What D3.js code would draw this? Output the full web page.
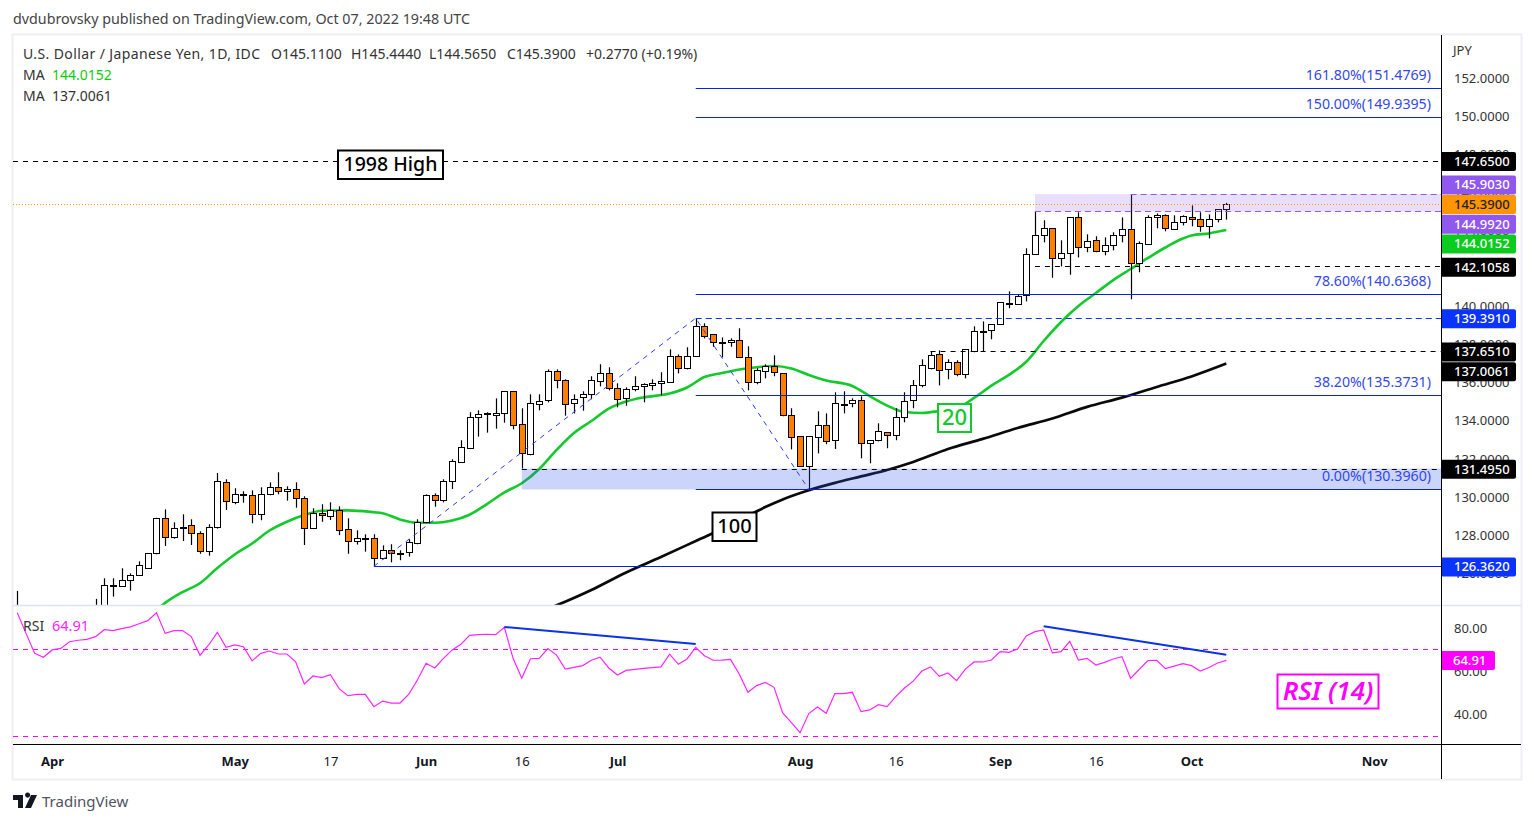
<!DOCTYPE html>
<html>
<head>
<meta charset="utf-8">
<script src="https://cdn.jsdelivr.net/npm/d3@7"></script>
<style>
    html,body{margin:0;padding:0;background:#fff;overflow:hidden;}
    text{font-family:"Noto Sans",sans-serif;}
</style>
</head>
<body>
<div id="plot"></div>
<script>
/* USD/JPY daily bars, one row per ten bars. Bars 1-8 sit below the pane and cannot be read. */
var opens = [
    123.9,null,null,null,null,null,null,null,null,123.7,
    123.9,125.36,125.31,125.63,125.89,126.26,127.02,128.88,127.88,128.41,
    128.51,128.09,127.15,128.39,130.77,129.72,130.10,130.09,129.09,130.14,
    130.51,130.30,130.40,129.93,128.36,129.14,128.99,129.30,128.30,127.67,
    127.84,127.83,126.78,127.20,127.05,127.10,127.57,128.67,130.09,129.83,
    130.82,131.82,132.56,134.18,134.38,134.29,134.39,135.55,133.82,132.24,
    134.87,135.08,136.60,136.13,134.92,135.23,135.39,136.07,136.49,135.71,
    135.18,135.65,135.81,135.86,135.97,136.02,137.39,136.76,137.39,138.96,
    138.54,138.13,138.12,138.23,137.33,136.02,136.60,136.86,136.49,134.29,
    133.19,131.61,133.13,133.76,132.98,134.86,134.92,135.08,132.82,132.98,
    133.40,133.24,134.18,135.08,135.86,136.76,137.49,136.70,137.07,136.44,
    137.65,138.69,138.75,139.07,140.13,140.12,140.59,142.74,143.74,144.11,
    142.53,142.79,144.68,143.11,143.48,142.90,143.21,143.74,144.05,142.27,
    143.27,144.68,144.79,144.05,144.42,144.68,144.58,144.21,144.58,145.11
];
var highs = [
    125.07,null,null,null,null,null,null,null,null,124.65,
    125.73,125.73,126.26,125.99,126.62,127.04,128.91,129.35,128.67,129.09,
    128.83,128.20,128.57,131.26,130.93,130.46,130.30,130.35,130.51,130.77,
    131.30,130.56,130.77,130.04,129.41,129.62,129.72,129.51,128.88,128.25,
    128.04,128.04,127.46,127.52,127.20,127.78,128.83,130.14,130.19,130.93,
    131.98,132.98,134.45,134.55,134.45,135.18,135.55,135.55,134.66,135.39,
    135.39,136.70,136.70,136.18,135.39,135.55,136.34,136.97,136.81,135.97,
    135.76,136.34,135.97,136.18,136.55,137.75,137.49,137.86,139.391,139.12,
    138.54,138.38,138.33,138.86,137.91,136.76,136.97,137.44,136.49,134.66,
    133.19,133.19,134.50,134.39,135.50,135.55,135.18,135.29,132.98,133.87,
    133.40,134.66,135.50,136.14,137.23,137.65,137.70,137.23,137.18,137.75,
    138.96,139.22,139.07,140.22,140.80,140.64,143.06,144.992,144.53,144.11,
    143.48,144.68,144.95,143.79,143.69,143.63,143.90,144.68,145.903,143.42,
    144.79,144.89,144.84,144.79,144.79,145.31,144.95,144.84,145.10,145.444
];
var lows = [
    123.5,null,null,null,null,null,null,null,null,123.5,
    123.8,124.77,125.31,125.08,125.89,126.26,126.99,127.43,127.81,127.69,
    127.48,127.02,126.92,128.34,129.32,129.62,129.70,128.62,128.78,130.09,
    130.14,129.81,129.44,127.48,128.36,128.70,128.79,128.00,127.02,127.50,
    127.13,126.362,126.73,126.57,126.68,126.87,127.52,128.62,129.49,129.72,
    130.42,131.82,132.56,133.17,133.38,133.59,133.90,133.55,131.495,132.19,
    134.55,134.97,135.71,134.27,134.39,134.53,135.13,135.81,135.60,134.71,
    134.79,135.55,134.97,135.60,135.34,136.02,136.49,136.70,137.39,138.33,
    137.89,137.33,137.89,137.33,135.60,135.92,136.23,136.34,134.24,132.50,
    131.61,130.396,132.29,132.77,132.52,134.39,134.71,132.03,131.77,132.92,
    132.56,132.98,133.92,134.66,135.76,136.70,135.86,136.18,136.34,136.23,
    137.60,137.65,138.28,139.07,139.91,140.12,140.27,142.74,143.37,141.51,
    142.11,141.67,142.58,142.85,142.85,142.69,142.95,143.37,140.38,141.80,
    143.27,144.11,143.95,144.05,144.26,144.21,143.93,143.58,144.42,144.565
];
var closes = [
    124.1,null,null,null,null,null,null,null,null,124.0,
    125.36,125.33,125.63,125.89,126.41,127.04,128.88,127.88,128.36,128.37,
    128.09,127.15,128.41,130.82,129.77,130.14,130.14,129.09,130.14,130.51,
    130.30,130.40,129.93,128.36,129.14,129.04,129.30,128.25,127.67,127.83,
    127.82,126.78,127.20,127.04,127.03,127.62,128.67,130.09,129.83,130.82,
    131.87,132.61,134.18,134.34,134.41,134.39,135.55,133.76,132.29,134.92,
    135.02,136.60,136.13,134.87,135.13,135.39,136.13,136.49,135.71,135.13,
    135.65,135.81,135.92,135.97,136.07,137.39,136.76,137.39,138.96,138.44,
    138.12,138.11,138.23,137.33,136.02,136.65,136.86,136.55,134.29,133.13,
    131.61,133.19,133.76,132.92,134.92,134.90,135.08,132.82,132.98,133.45,
    133.24,134.18,135.02,135.86,136.91,137.44,136.65,137.07,136.44,137.75,
    138.70,138.71,139.07,140.22,140.17,140.54,142.74,143.74,144.11,142.53,
    142.79,144.68,143.11,143.42,142.90,143.21,143.74,144.05,142.27,143.32,
    144.68,144.79,144.11,144.42,144.74,144.58,144.21,144.58,145.10,145.39
];

//moving averages, read at the bars listed
var ma20Bars = [16,17,19,21,23,25,27,29,31,33,35,38,41,42,44,46,48,50,52,54,56,58,60,62,64,66,68,70,72,75,77,79,81,84,87,89,91,93,96,98,100,102,104,106,108,110,112,114,116,118,120,122,124,126,128,130,132,134,135,137,139];
var ma20Vals = [124.07,124.44,125.01,125.47,126.27,126.98,127.56,128.24,128.70,129.05,129.28,129.30,129.20,129.15,128.82,128.65,128.65,128.77,129.07,129.63,130.24,130.72,131.47,132.47,133.36,133.99,134.64,135.01,135.23,135.43,135.75,136.30,136.51,136.76,136.88,136.75,136.41,136.12,135.83,135.30,134.80,134.46,134.41,134.52,134.67,135.20,135.85,136.41,137.10,138.19,139.19,140.03,140.71,141.39,141.97,142.55,143.10,143.57,143.73,143.84,144.0152];
var ma100Bars = [61,62,66,70,74,78,82,86,88,91,94,97,100,103,107,111,115,119,123,127,131,135,139];
var ma100Vals = [124.12,124.31,125.12,126.04,126.85,127.69,128.53,129.47,129.87,130.35,130.74,131.08,131.42,131.84,132.52,133.05,133.62,134.12,134.73,135.22,135.78,136.33,137.0061];

var rsiVals = [
    87.1,77.5,68.2,66.4,69.8,70.5,73.6,74.3,74.7,76.0,
    79.2,78.8,79.7,80.5,82.0,83.4,87.1,77.5,78.8,78.8,
    76.0,67.3,72.1,78.0,71.0,72.1,71.3,64.7,68.2,69.3,
    67.9,67.9,64.3,54.0,57.7,56.9,58.3,51.8,48.5,49.1,
    49.1,43.4,46.0,45.1,45.1,49.1,55.8,63.6,61.4,65.9,
    69.8,72.4,76.6,76.9,77.1,76.9,80.3,65.9,56.6,65.7,
    65.9,70.4,67.4,60.9,61.7,62.5,65.0,66.4,61.4,58.1,
    60.3,60.8,61.2,61.6,61.9,67.8,63.1,65.6,71.0,67.1,
    65.0,65.1,65.4,58.6,50.1,53.2,54.7,52.4,40.5,36.0,
    31.3,40.2,43.3,40.3,49.5,49.5,50.1,41.1,41.9,44.3,
    43.4,48.1,52.1,55.3,60.0,61.9,57.5,59.1,55.5,60.9,
    64.2,64.2,65.1,69.0,68.7,70.2,76.3,78.3,79.1,68.4,
    69.0,73.8,65.1,65.9,62.8,64.0,65.6,66.7,56.6,60.8,
    64.8,65.0,61.1,62.3,63.4,62.5,60.0,61.6,63.7,64.91
];

var priceTicks = [152,150,148,146,144,142,140,138,136,134,132,130,128,126];
var rsiTicks = [80,60,40];
var timeTickBars = [4,25,36,47,58,69,90,101,113,124,135,156];
var timeTickLabels = ["Apr","May","17","Jun","16","Jul","Aug","16","Sep","16","Oct","Nov"];
var monthLabels = ["Apr","May","Jun","Jul","Aug","Sep","Oct","Nov"];

//fibonacci levels and their names
var fibLevels = [151.4769,149.9395,140.6368,135.3731,130.3960];
var fibNames = ["161.80%","150.00%","78.60%","38.20%","0.00%"];
var fibStartBar = 78;

//horizontal levels: price, first bar (null = whole pane)
var blackLevels = [147.65,142.1058,137.651,131.495];
var blackLevelBars = [null,117,105,58];
var zigzagBars = [41,78,91];
var zigzagPrices = [126.362,139.391,130.396];
var lastPrice = 145.39;

//tags on the price scale
var tagPrices = [147.65,145.903,145.39,144.992,144.0152,142.1058,139.391,137.651,137.0061,131.495,126.362];
var tagTexts = ["147.6500","145.9030","145.3900","144.9920","144.0152","142.1058","139.3910","137.6510","137.0061","131.4950","126.3620"];
var tagColors = ["#000","#9058ee","#ff9500","#9058ee","#0bcb1f","#000","#0a33ff","#000","#000","#000","#0a33ff"];

//RSI divergence lines
var rsiLine1Bars = [56,78], rsiLine1Vals = [80.47,72.56];
var rsiLine2Bars = [118,139], rsiLine2Vals = [80.8,67.6];

/* set up the canvas */
var svg = d3.select('#plot').append('svg')
    .attr('width',1534)
    .attr('height',823)
    .style('display','block');

var paneL = 13, paneR = 1441, outerR = 1521;
var priceT = 35, priceB = 605, rsiB = 744, outerB = 779;

var x = d3.scaleLinear().domain([0,139]).range([17.3,1226.3]);
var y = d3.scaleLinear().domain([130,152]).range([497,78]);
var yRsi = d3.scaleLinear().domain([40,80]).range([714,628]);

svg.append('clipPath').attr('id','clipPrice').append('rect')
    .attr('x',paneL).attr('y',priceT).attr('width',paneR-paneL).attr('height',priceB-priceT);
svg.append('clipPath').attr('id','clipRsi').append('rect')
    .attr('x',paneL).attr('y',priceB).attr('width',paneR-paneL).attr('height',rsiB-priceB);

//outer frame
svg.append('rect')
    .attr('x',12.5).attr('y',34.5).attr('width',outerR-12).attr('height',outerB-34)
    .attr('fill','none').attr('stroke','#eeeef5').attr('stroke-width',2);

var price = svg.append('g').attr('clip-path','url(#clipPrice)');
var pane2 = svg.append('g').attr('clip-path','url(#clipRsi)');

/* moving averages go under the candles */
function maLine(bars,vals,color,w){
    var line = d3.line()
        .x(function(d){return x(d);})
        .y(function(d,i){return y(vals[i]);})
        .curve(d3.curveMonotoneX);
    price.append('path')
        .attr('d',line(bars))
        .attr('fill','none')
        .attr('stroke',color)
        .attr('stroke-width',w);
}
maLine(ma20Bars,ma20Vals,'#14c92a',2.6);
maLine(ma100Bars,ma100Vals,'#0a0a0a',2.7);

/* candles */
var bars = d3.range(opens.length).filter(function(i){return opens[i]!==null;});

price.selectAll('.wick')
    .data(bars)
    .enter()
    .append('line')
    .attr('class','wick')
    .attr('x1',function(i){return Math.round(x(i))+0.5;})
    .attr('x2',function(i){return Math.round(x(i))+0.5;})
    .attr('y1',function(i){return y(highs[i]);})
    .attr('y2',function(i){return y(lows[i]);})
    .attr('stroke','#000')
    .attr('stroke-width',1.2);

price.selectAll('.body')
    .data(bars)
    .enter()
    .append('rect')
    .attr('class','body')
    .attr('x',function(i){return Math.round(x(i))-2.5;})
    .attr('width',6)
    .attr('y',function(i){return Math.round(y(Math.max(opens[i],closes[i])))+0.5;})
    .attr('height',function(i){return Math.max(1,Math.round(Math.abs(y(opens[i])-y(closes[i]))));})
    .attr('fill',function(i){return closes[i]<opens[i]?'#ff8000':'#fff';})
    .attr('stroke','#000')
    .attr('stroke-width',1);

/* drawings on top of the candles */
//fib band and purple box
price.append('rect')
    .attr('x',x(58)).attr('width',paneR-x(58))
    .attr('y',y(131.495)).attr('height',y(130.396)-y(131.495))
    .attr('fill','#3054f0').attr('fill-opacity',0.25);
price.append('rect')
    .attr('x',x(117)).attr('width',paneR-x(117))
    .attr('y',y(145.903)).attr('height',y(144.992)-y(145.903))
    .attr('fill','#9058ee').attr('fill-opacity',0.2);

function hline(p,bar,color,dash){
    price.append('line')
        .attr('x1',bar===null?paneL:x(bar)).attr('x2',paneR)
        .attr('y1',Math.round(y(p))+0.5).attr('y2',Math.round(y(p))+0.5)
        .attr('stroke',color)
        .attr('stroke-width',1)
        .attr('stroke-dasharray',dash);
}
blackLevels.forEach(function(p,i){hline(p,blackLevelBars[i],'#000','5,5');});
hline(145.903,128,'#9058ee','6,4');
hline(144.992,117,'#9058ee','6,4');
hline(139.391,fibStartBar,'#0a33ff','6,4');
hline(126.362,41,'#0a22dd',null);
hline(lastPrice,null,'#ff9500','1,2');

fibLevels.forEach(function(p,i){
    hline(p,fibStartBar,'#0a22dd',null);
    price.append('text')
        .attr('x',1431).attr('y',y(p)-8)
        .attr('text-anchor','end')
        .attr('font-size',14.2)
        .attr('fill','#3448e8')
        .text(fibNames[i]+'('+d3.format('.4f')(p)+')');
});

var zigzag = d3.line()
    .x(function(d){return x(d);})
    .y(function(d,i){return y(zigzagPrices[i]);});
price.append('path')
    .attr('d',zigzag(zigzagBars))
    .attr('fill','none')
    .attr('stroke','#2a3cf0')
    .attr('stroke-width',1)
    .attr('stroke-dasharray','5,5');

/* RSI pane */
function rsiHline(v,row){
    pane2.append('line')
        .attr('x1',paneL).attr('x2',paneR)
        .attr('y1',row(yRsi(v))+0.5).attr('y2',row(yRsi(v))+0.5)
        .attr('stroke','#ff00ff')
        .attr('stroke-width',1)
        .attr('stroke-dasharray','5,5');
}
rsiHline(70,Math.floor);
rsiHline(30,Math.ceil);

var rsiPath = d3.line()
    .x(function(d,i){return x(i);})
    .y(function(d){return yRsi(d);});
pane2.append('path')
    .attr('d',rsiPath(rsiVals))
    .attr('fill','none')
    .attr('stroke','#ff24ff')
    .attr('stroke-width',1.2);

function rsiTrend(b,v){
    var line = d3.line()
        .x(function(d){return x(d);})
        .y(function(d,i){return yRsi(v[i]);});
    pane2.append('path')
        .attr('d',line(b))
        .attr('fill','none')
        .attr('stroke','#0a33e8')
        .attr('stroke-width',2);
}
rsiTrend(rsiLine1Bars,rsiLine1Vals);
rsiTrend(rsiLine2Bars,rsiLine2Vals);

/* pane dividers */
svg.append('line').attr('x1',paneL).attr('x2',outerR).attr('y1',605.5).attr('y2',605.5)
    .attr('stroke','#e0e3eb').attr('stroke-width',1.5);
svg.append('line').attr('x1',paneL).attr('x2',outerR).attr('y1',744.5).attr('y2',744.5)
    .attr('stroke','#000').attr('stroke-width',1);
svg.append('line').attr('x1',1441.5).attr('x2',1441.5).attr('y1',priceT).attr('y2',outerB)
    .attr('stroke','#000').attr('stroke-width',1);

/* axes */
var priceAxis = svg.append('g')
    .attr('transform','translate(1441,0)')
    .call(d3.axisRight(y).tickValues(priceTicks).tickSize(0).tickPadding(13).tickFormat(d3.format('.4f')));
var rsiAxis = svg.append('g')
    .attr('transform','translate(1441,0)')
    .call(d3.axisRight(yRsi).tickValues(rsiTicks).tickSize(0).tickPadding(13).tickFormat(d3.format('.2f')));
var timeAxis = svg.append('g')
    .attr('transform','translate(0,744)')
    .call(d3.axisBottom(x).tickValues(timeTickBars).tickSize(0).tickPadding(13)
        .tickFormat(function(d,i){return timeTickLabels[i];}));

[priceAxis,rsiAxis,timeAxis].forEach(function(a){
    a.select('.domain').remove();
    a.selectAll('text')
        .attr('font-size',13)
        .style('font-family','"Noto Sans",sans-serif')
        .attr('fill','#333');
});
timeAxis.selectAll('text')
    .attr('fill','#131722')
    .attr('font-weight',function(d,i){return monthLabels.indexOf(timeTickLabels[i])>=0?700:400;});

svg.append('text').attr('x',1453).attr('y',55).attr('font-size',13).attr('fill','#333').text('JPY');

/* price tags, the last price stays put and the others get pushed away from it */
var tagGap = 19.7;
var tagY = tagPrices.map(function(p){return y(p)+0.7;});
var anchor = tagPrices.indexOf(lastPrice);
for (var a=anchor-1;a>=0;a--) tagY[a] = Math.min(tagY[a],tagY[a+1]-tagGap);
for (var b=anchor+1;b<tagY.length;b++) tagY[b] = Math.max(tagY[b],tagY[b-1]+tagGap);

var tags = svg.selectAll('.tag')
    .data(tagPrices)
    .enter()
    .append('g')
    .attr('class','tag')
    .attr('transform',function(d,i){return 'translate(1442,'+tagY[i]+')';});
tags.append('path')
    .attr('d','M0,-9.5H72a2,2 0 0 1 2,2V7.5a2,2 0 0 1 -2,2H0Z')
    .attr('fill',function(d,i){return tagColors[i];});
tags.append('text')
    .attr('x',12).attr('dy','.34em')
    .attr('font-size',13)
    .attr('font-weight',500)
    .attr('fill',function(d,i){return tagPrices[i]===lastPrice?'#222':'#fff';})
    .text(function(d,i){return tagTexts[i];});

var rsiTag = svg.append('g').attr('transform','translate(1442,'+yRsi(64.91)+')');
rsiTag.append('path')
    .attr('d','M0,-9.5H51a2,2 0 0 1 2,2V7.5a2,2 0 0 1 -2,2H0Z')
    .attr('fill','#ff00ff');
rsiTag.append('text')
    .attr('x',11).attr('dy','.34em')
    .attr('font-size',13).attr('font-weight',500).attr('fill','#fff')
    .text('64.91');

/* boxed notes */
function note(x0,y0,w,h,color,txt,size,italic,sw){
    svg.append('rect')
        .attr('x',x0).attr('y',y0).attr('width',w).attr('height',h)
        .attr('fill','#fff').attr('stroke',color).attr('stroke-width',sw);
    svg.append('text')
        .attr('x',x0+w/2).attr('y',y0+h/2-1)
        .attr('dy','.35em')
        .attr('text-anchor','middle')
        .attr('font-size',size)
        .attr('fill',color)
        .attr('font-weight',italic?600:500)
        .attr('font-style',italic?'italic':'normal')
        .text(txt);
}
note(338,150.5,105,28.5,'#000','1998 High',19.5,false,2);
note(938,404,33,28,'#14c92a','20',22,false,2);
note(712.5,512.5,44,28.5,'#000','100',20,false,2);
note(1277.5,674.5,101,34,'#ff00ff','RSI (14)',26,true,2);

/* header and legend */
function label(px,py,txt,color,size){
    return svg.append('text').attr('x',px).attr('y',py)
        .attr('font-size',size||14).attr('fill',color||'#333').text(txt);
}
label(13,24,'dvdubrovsky published on TradingView.com, Oct 07, 2022 19:48 UTC','#444',14.3);
label(23,59,'U.S. Dollar / Japanese Yen, 1D, IDC','#333').attr('textLength',237);
label(271,59,'O145.1100','#333');
label(351,59,'H145.4440','#333');
label(429,59,'L144.5650','#333');
label(507,59,'C145.3900','#333');
label(586,59,'+0.2770 (+0.19%)','#333');
label(23,80,'MA','#333');
label(52,80,'144.0152','#10cc10');
label(23,101,'MA','#333');
label(52,101,'137.0061','#333');
label(23,631,'RSI','#333');
label(52,631,'64.91','#ff24ff',14.5);

/* logo */
svg.append('path')
    .attr('d','M13,795H23V808H18V800H13ZM25,795a2.6,2.6 0 1 1 0,0.01ZM31,795H37L31,808H25Z')
    .attr('fill','#131722');
label(42,807,'TradingView','#50535e',15);
</script>
</body>
</html>
